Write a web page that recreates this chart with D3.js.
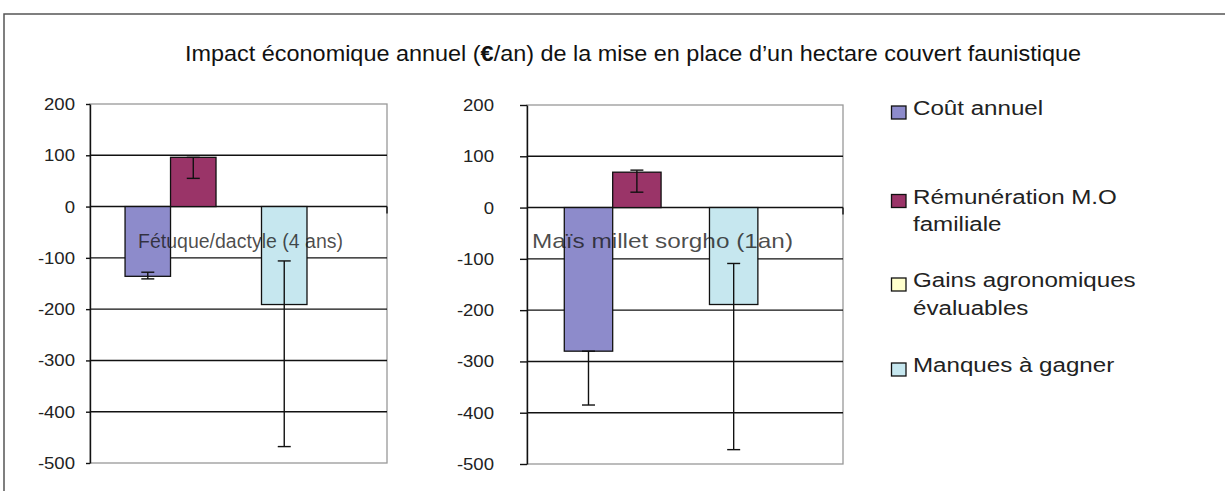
<!DOCTYPE html>
<html><head><meta charset="utf-8">
<script src="https://cdn.jsdelivr.net/npm/d3@7"></script>
<style>body{margin:0;background:#fff} svg{display:block}</style>
</head><body><svg id="c" width="1225" height="491"></svg>
<script>
// ---- data ----
const titlePre = "Impact économique annuel (";
const titleEuro = "€";
const titlePost = "/an) de la mise en place d’un hectare couvert faunistique";
const seriesNames = ["Coût annuel", "Rémunération M.O familiale", "Gains agronomiques évaluables", "Manques à gagner"];
const legendLines = [["Coût annuel"], ["Rémunération M.O", "familiale"], ["Gains agronomiques", "évaluables"], ["Manques à gagner"]];
const seriesColors = ["#8d8bcb", "#9a3468", "#ffffcc", "#c6e7ef"];
const panelLabels = ["Fétuque/dactyle (4 ans)", "Maïs millet sorgho (1an)"];
const valuesFetuque = [-136, 96, 0, -191];
const errLowFetuque = [-141, 55, null, -468];
const errHighFetuque = [-128, 96, null, -106];
const valuesMais = [-280, 69, 0, -189];
const errLowMais = [-385, 30, null, -472];
const errHighMais = [-280, 73, null, -109];
const yTicks = [200, 100, 0, -100, -200, -300, -400, -500];

// ---- layout ----
const svg = d3.select("#c");
const FONT = "'Liberation Sans', Arial, sans-serif";

// outer frame
svg.append("path").attr("d", "M4,491V14H1225").attr("fill", "none").attr("stroke", "#555").attr("stroke-width", 1.5);

// title
const t = svg.append("text").attr("x", 185).attr("y", 61)
  .attr("font-family", "'Liberation Sans Narrow', 'Arial Narrow', " + FONT)
  .attr("font-size", 22.5).attr("fill", "#111")
  .attr("textLength", 896).attr("lengthAdjust", "spacingAndGlyphs");
t.append("tspan").text(titlePre);
t.append("tspan").attr("font-weight", "bold").text(titleEuro);
t.append("tspan").text(titlePost);

const panels = [
  {vals: valuesFetuque, lo: errLowFetuque, hi: errHighFetuque, label: panelLabels[0],
   x0: 90, x1: 387, y0: 104, y1: 463, tick: 4, pad: 11, lx: 138, ly: 247.5, lsize: 20, llen: 205},
  {vals: valuesMais, lo: errLowMais, hi: errHighMais, label: panelLabels[1],
   x0: 527, x1: 843, y0: 105, y1: 464, tick: 7, pad: 26, lx: 532, ly: 248, lsize: 21, llen: 261}
];

panels.forEach(p => {
  const y = d3.scaleLinear().domain([-500, 200]).range([p.y1, p.y0]);
  const w = p.x1 - p.x0;
  const x = d3.scaleBand().domain(seriesNames).range([p.x0 + w * 0.118, p.x0 + w * 0.7306]).paddingInner(0);
  const g = svg.append("g");

  // plot border (gray)
  g.append("rect").attr("x", p.x0).attr("y", y(200)).attr("width", w).attr("height", y(-500) - y(200))
    .attr("fill", "none").attr("stroke", "#999").attr("stroke-width", 1.3);
  // gridlines
  g.selectAll("line.grid").data(yTicks.filter(v => v < 200 && v > -500)).join("line")
    .attr("x1", p.x0).attr("x2", p.x1).attr("y1", d => y(d)).attr("y2", d => y(d))
    .attr("stroke", "#111").attr("stroke-width", 1.4);
  // x-axis tick at right end of zero line
  g.append("line").attr("x1", p.x1).attr("x2", p.x1).attr("y1", y(0)).attr("y2", y(0) + 7)
    .attr("stroke", "#111").attr("stroke-width", 1.4);

  // bars
  g.selectAll("rect.bar").data(p.vals).join("rect")
    .attr("x", (d, i) => x(seriesNames[i])).attr("width", x.bandwidth())
    .attr("y", d => y(Math.max(0, d))).attr("height", d => Math.abs(y(d) - y(0)))
    .attr("fill", (d, i) => seriesColors[i]).attr("stroke", "#111").attr("stroke-width", 1.3);

  // panel label
  g.append("text").attr("x", p.lx).attr("y", p.ly).attr("font-family", FONT).attr("font-size", p.lsize)
    .attr("fill", "#1a1a1a").attr("fill-opacity", 0.78)
    .attr("textLength", p.llen).attr("lengthAdjust", "spacingAndGlyphs").text(p.label);

  // error bars
  const eb = p.vals.map((v, i) => ({i, lo: p.lo[i], hi: p.hi[i]})).filter(d => d.lo !== null);
  const cx = d => x(seriesNames[d.i]) + x.bandwidth() / 2;
  g.selectAll("line.eb").data(eb).join("line")
    .attr("x1", cx).attr("x2", cx).attr("y1", d => y(d.lo)).attr("y2", d => y(d.hi))
    .attr("stroke", "#111").attr("stroke-width", 1.4);
  ["lo", "hi"].forEach(k => {
    g.selectAll("line.cap" + k).data(eb).join("line")
      .attr("x1", d => cx(d) - 6.5).attr("x2", d => cx(d) + 6.5)
      .attr("y1", d => y(d[k])).attr("y2", d => y(d[k]))
      .attr("stroke", "#111").attr("stroke-width", 1.4);
  });

  // y axis
  const ax = g.append("g").attr("transform", `translate(${p.x0},0)`)
    .call(d3.axisLeft(y).tickValues(yTicks).tickSize(p.tick).tickSizeOuter(0).tickPadding(p.pad).tickFormat(d => String(d)));
  ax.select(".domain").attr("stroke", "#111").attr("stroke-width", 1.4);
  ax.selectAll(".tick line").attr("stroke", "#111").attr("stroke-width", 1.4);
  ax.selectAll(".tick text").each(function () {
    const s = d3.select(this);
    const xx = +s.attr("x");
    s.attr("x", 0).attr("dy", null).attr("y", 5.5)
      .attr("transform", `translate(${xx},0) scale(1.16,1)`);
  })
    .attr("font-family", FONT).attr("font-size", 16).attr("fill", "#222");
});

// legend
const legendY = [115, 203.5, 287, 372];
const lg = svg.append("g");
seriesNames.forEach((s, i) => {
  lg.append("rect").attr("x", 891.5).attr("y", legendY[i] - 9).attr("width", 14.5).attr("height", 13)
    .attr("fill", seriesColors[i]).attr("stroke", "#111").attr("stroke-width", 1.3);
  legendLines[i].forEach((line, j) => {
    lg.append("text").attr("font-family", FONT).attr("font-size", 21).attr("fill", "#222")
      .attr("transform", `translate(913,${legendY[i] + j * 27.5}) scale(1.15,1)`).text(line);
  });
});
</script></body></html>
